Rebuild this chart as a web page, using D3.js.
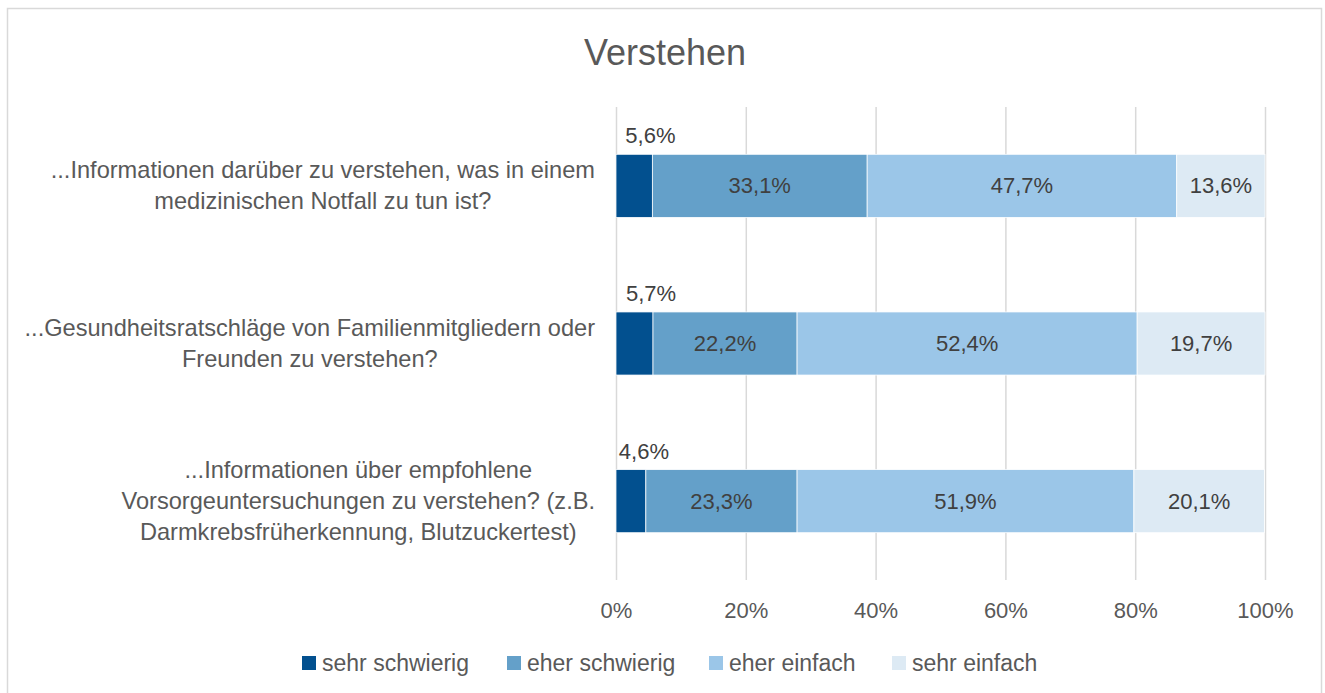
<!DOCTYPE html>
<html>
<head>
<meta charset="utf-8">
<script src="https://cdn.jsdelivr.net/npm/d3@7"></script>
<style>
  html, body { margin: 0; padding: 0; background: #fff; }
  svg { display: block; }
  text { font-family: "Liberation Sans", Arial, sans-serif; }
</style>
</head>
<body>
<div id="chart"></div>
<script>
const W = 1325
const H = 693

// data
const title = 'Verstehen'
const categories = [
  ['...Informationen darüber zu verstehen, was in einem', 'medizinischen Notfall zu tun ist?'],
  ['...Gesundheitsratschläge von Familienmitgliedern oder', 'Freunden zu verstehen?'],
  ['...Informationen über empfohlene', 'Vorsorgeuntersuchungen zu verstehen? (z.B.', 'Darmkrebsfrüherkennung, Blutzuckertest)']
]
const seriesNames = ['sehr schwierig', 'eher schwierig', 'eher einfach', 'sehr einfach']
const sehrSchwierig = [5.6, 5.7, 4.6]
const eherSchwierig = [33.1, 22.2, 23.3]
const eherEinfach = [47.7, 52.4, 51.9]
const sehrEinfach = [13.6, 19.7, 20.1]
const tickValues = [0, 20, 40, 60, 80, 100]
const colors = ['#02508f', '#64a0c9', '#9bc6e8', '#ddeaf4']

const series = [sehrSchwierig, eherSchwierig, eherEinfach, sehrEinfach]
const rows = categories.map((c, i) => {
  const row = { idx: i, lines: c }
  seriesNames.forEach((s, j) => { row[s] = series[j][i] })
  return row
})

const stacked = d3.stack().keys(seriesNames)(rows)

const margin = { left: 616, right: 60, top: 107, bottom: 113 }

const x = d3.scaleLinear()
  .domain([0, 100])
  .range([margin.left, W - margin.right])

const y = d3.scaleBand()
  .domain(rows.map(d => d.idx))
  .range([margin.top, H - margin.bottom])
  .paddingInner(0.6)
  .paddingOuter(0.3)

const fmt = v => d3.format('.1f')(v).replace('.', ',') + '%'

const svg = d3.select('#chart').append('svg')
  .attr('width', W)
  .attr('height', H)

// chart border
svg.append('rect')
  .attr('x', 7.5)
  .attr('y', 8.5)
  .attr('width', W - 11)
  .attr('height', H)
  .attr('fill', '#fff')
  .attr('stroke', '#d9d9d9')
  .attr('stroke-width', 1.5)

svg.append('text')
  .attr('x', 665)
  .attr('y', 65)
  .attr('text-anchor', 'middle')
  .attr('font-size', 36)
  .attr('fill', '#595959')
  .text(title)

// grid + axis
const xAxis = d3.axisBottom(x)
  .tickValues(tickValues)
  .tickFormat(d => d + '%')
  .tickSize(-(H - margin.bottom - margin.top))
  .tickPadding(22)

const gx = svg.append('g')
  .attr('transform', `translate(0,${H - margin.bottom})`)
  .call(xAxis)
gx.select('.domain').remove()
gx.selectAll('.tick line').attr('stroke', '#d9d9d9').attr('stroke-width', 1.5)
gx.selectAll('.tick text')
  .attr('font-size', 22)
  .attr('fill', '#595959')
  .attr('font-family', '"Liberation Sans", Arial, sans-serif')

// bars
const layers = svg.append('g').selectAll('g')
  .data(stacked)
  .join('g')
  .attr('fill', (d, i) => colors[i])

layers.selectAll('rect')
  .data(d => d)
  .join('rect')
  .attr('x', d => x(d[0]))
  .attr('y', d => y(d.data.idx))
  .attr('width', d => x(d[1]) - x(d[0]))
  .attr('height', y.bandwidth())
  .attr('stroke', '#fff')
  .attr('stroke-width', 0.75)

// data labels
stacked.forEach((layer, li) => {
  layer.forEach(d => {
    const v = d.data[layer.key]
    const t = svg.append('text')
      .attr('font-size', 22)
      .attr('fill', '#404040')
      .text(fmt(v))
    if (li === 0) {
      // small segment: label sits above the bar
      t.attr('x', x(d[1]) - 27)
        .attr('y', y(d.data.idx) - 11)
    } else {
      t.attr('x', (x(d[0]) + x(d[1])) / 2)
        .attr('y', y(d.data.idx) + y.bandwidth() / 2)
        .attr('text-anchor', 'middle')
        .attr('dominant-baseline', 'central')
    }
  })
})

// category labels, centred block with right edge near the plot
const lineH = 31
const catG = svg.append('g')
rows.forEach(r => {
  const t = catG.append('text')
    .attr('font-size', 23.6)
    .attr('fill', '#595959')
    .attr('text-anchor', 'middle')
  const cy = y(r.idx) + y.bandwidth() / 2
  const n = r.lines.length
  r.lines.forEach((l, k) => {
    t.append('tspan')
      .attr('y', cy + (k - (n - 1) / 2) * lineH)
      .attr('dominant-baseline', 'central')
      .text(l)
  })
  const maxW = d3.max(t.selectAll('tspan').nodes(), n => n.getComputedTextLength())
  t.selectAll('tspan').attr('x', 595 - maxW / 2)
})

// legend
const legendX = [302, 507, 709, 892]
const lg = svg.append('g')
seriesNames.forEach((s, i) => {
  const g = lg.append('g').attr('transform', `translate(${legendX[i]},663)`)
  g.append('rect')
    .attr('x', 0).attr('y', -7)
    .attr('width', 14).attr('height', 14)
    .attr('fill', colors[i])
  g.append('text')
    .attr('x', 20)
    .attr('y', 0)
    .attr('dominant-baseline', 'central')
    .attr('font-size', 23)
    .attr('fill', '#595959')
    .text(s)
})
</script>
</body>
</html>
